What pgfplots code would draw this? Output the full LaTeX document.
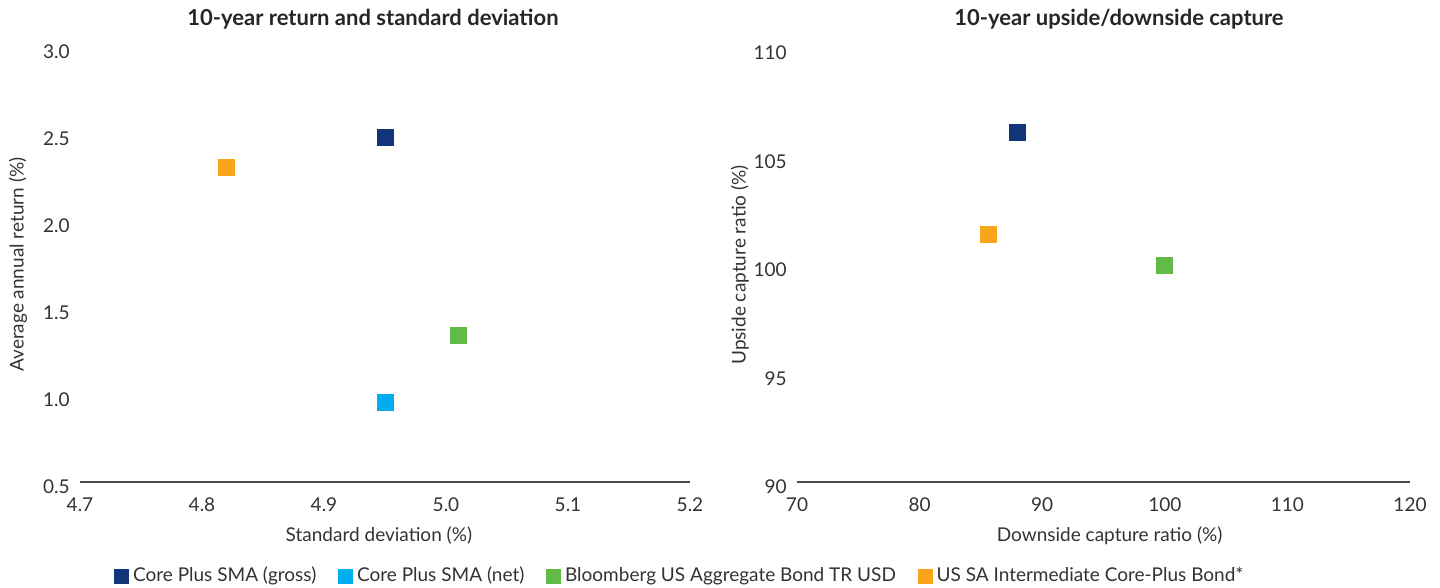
\documentclass[border=0pt]{standalone}
\usepackage{fontspec}
\setmainfont{Lato}
\usepackage{pgfplots}
\pgfplotsset{compat=1.18}

\definecolor{cgross}{HTML}{13357A}
\definecolor{cnet}{HTML}{00AEEF}
\definecolor{cagg}{HTML}{62BB46}
\definecolor{cpeer}{HTML}{F9A51C}
\definecolor{txt}{HTML}{333333}

\pgfplotsset{
  sc/.style={
    scale only axis,
    axis x line*=bottom, axis y line*=left,
    y axis line style={draw=none},
    x axis line style={draw=black!70, line width=1bp},
    major tick length=0pt,
    tick label style={font=\fontsize{9.5bp}{11bp}\selectfont, text=txt},
    label style={font=\fontsize{9.5bp}{11bp}\selectfont, text=txt},
    /pgf/number format/assume math mode=true,
    xticklabel style={inner sep=0pt, anchor=north, yshift=-7.5bp},
    yticklabel style={inner sep=0pt, anchor=east, xshift=-5bp, yshift=-2.5bp},
    clip=false,
  },
  pt/.style={only marks, mark=square*, mark size=4bp, color=#1,
    mark options={fill=#1, draw=#1}},
}

\begin{document}
\begin{tikzpicture}
\useasboundingbox (0,0) rectangle (720bp,294bp);

% titles
\node[font=\bfseries\fontsize{11bp}{13bp}\selectfont, text=black!85] at (186.5bp,284.5bp) {10-year return and standard deviation};
\node[font=\bfseries\fontsize{11bp}{13bp}\selectfont, text=black!85] at (559.5bp,284.5bp) {10-year upside/downside capture};

% left: return vs standard deviation
\begin{axis}[sc,
  at={(40bp,53bp)}, anchor=south west,
  width=305bp, height=217.5bp,
  xmin=4.7, xmax=5.2, ymin=0.5, ymax=3.0,
  xtick={4.7,4.8,...,5.2}, ytick={0.5,1.0,...,3.0},
  xticklabel style={/pgf/number format/.cd, fixed, fixed zerofill, precision=1},
  yticklabel style={/pgf/number format/.cd, fixed, fixed zerofill, precision=1},
  xlabel={Standard deviation (\%)},
  ylabel={Average annual return (\%)},
  xlabel style={at={(axis description cs:0.49,-0.124)}, anchor=center},
  ylabel style={at={(axis description cs:-0.1016,0.5)}, anchor=center},
  legend style={at={(axis description cs:0.985,-0.216)}, anchor=center,
    draw=none, fill=none, inner sep=0pt, legend columns=4,
    font=\fontsize{9.5bp}{11bp}\selectfont, text=txt,
    /tikz/every even column/.append style={column sep=9bp}},
  legend image code/.code={\fill[#1] (0bp,-3.5bp) rectangle (7bp,3.5bp);},
]
\addplot[pt=cgross] coordinates {(4.95,2.48)};
\addlegendentry{Core Plus SMA (gross)}
\addplot[pt=cnet] coordinates {(4.95,0.96)};
\addlegendentry{Core Plus SMA (net)}
\addplot[pt=cagg] coordinates {(5.01,1.34)};
\addlegendentry{Bloomberg US Aggregate Bond TR USD}
\addplot[pt=cpeer] coordinates {(4.82,2.31)};
\addlegendentry{US SA Intermediate Core-Plus Bond*}
\end{axis}

% right: upside vs downside capture
\begin{axis}[sc,
  at={(398.5bp,53bp)}, anchor=south west,
  width=306.5bp, height=217bp,
  xmin=70, xmax=120, ymin=90, ymax=110,
  xtick={70,80,...,120}, ytick={90,95,...,110},
  xlabel={Downside capture ratio (\%)},
  ylabel={Upside capture ratio (\%)},
  xlabel style={at={(axis description cs:0.51,-0.124)}, anchor=center},
  ylabel style={at={(axis description cs:-0.093,0.5)}, anchor=center},
]
\addplot[pt=cgross] coordinates {(88.0,106.1)};
\addplot[pt=cagg] coordinates {(100.0,100.0)};
\addplot[pt=cpeer] coordinates {(85.6,101.4)};
\end{axis}
\end{tikzpicture}
\end{document}
